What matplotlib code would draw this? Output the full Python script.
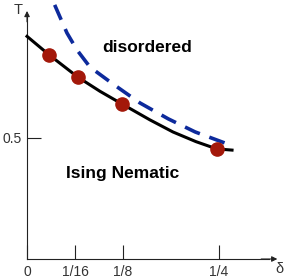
import matplotlib
matplotlib.use("Agg")
import matplotlib.pyplot as plt

plt.rcParams['font.family'] = ['Liberation Sans', 'DejaVu Sans']

# transition line (solid) and sampled points
delta_line = [0.0, 0.029, 0.066, 0.095, 0.124, 0.16, 0.19, 0.22, 0.247, 0.267]
T_line = [0.92, 0.843, 0.752, 0.693, 0.64, 0.575, 0.525, 0.485, 0.455, 0.45]

delta_pts = [0.029, 0.066, 0.124, 0.247]
T_pts = [0.843, 0.752, 0.64, 0.455]

# dashed upper curve
delta_dash = [0.036, 0.052, 0.065, 0.082, 0.112, 0.147, 0.184, 0.219, 0.258]
T_dash = [1.05, 0.934, 0.864, 0.793, 0.723, 0.645, 0.579, 0.525, 0.479]

xticks = [0, 1/16, 1/8, 1/4]
xticklabels = ['0', '1/16', '1/8', '1/4']
yticks = [0.5]
yticklabels = ['0.5']

fig = plt.figure(figsize=(2.91, 2.79), dpi=100)
ax = fig.add_axes([0, 0, 1, 1])
ax.set_xlim(-0.0352, 0.3438)
ax.set_ylim(-0.0826, 1.0702)

ax.plot(delta_dash, T_dash, color='#0d2a9c', lw=2.6, dashes=(4.5, 2.8),
        solid_capstyle='butt', dash_capstyle='butt', zorder=2)
ax.plot(delta_line, T_line, color='black', lw=2.2, zorder=3)
ax.plot(delta_pts, T_pts, 'o', color='#a3180a', ms=9.5, zorder=4)

# axes through origin
for s in ['top', 'right']:
    ax.spines[s].set_visible(False)
ax.spines['left'].set_position(('data', 0))
ax.spines['bottom'].set_position(('data', 0))
ax.spines['left'].set_bounds(0, 1.0)
ax.spines['bottom'].set_bounds(0, 0.315)
for s in ['left', 'bottom']:
    ax.spines[s].set_linewidth(0.8)
    ax.spines[s].set_color('#222222')

ax.annotate('', xy=(0, 1.025), xytext=(0, 0.98),
            arrowprops=dict(arrowstyle='-|>', color='#222222', lw=0.8,
                            mutation_scale=8, shrinkA=0, shrinkB=0))
ax.annotate('', xy=(0.326, 0), xytext=(0.305, 0),
            arrowprops=dict(arrowstyle='-|>', color='#222222', lw=0.8,
                            mutation_scale=8, shrinkA=0, shrinkB=0))

ax.set_xticks(xticks)
ax.set_xticklabels(xticklabels)
ax.set_yticks(yticks)
ax.set_yticklabels(yticklabels)
ax.tick_params(direction='in', length=10, width=0.8, color='#222222',
               labelsize=10, labelcolor='#333333', pad=4)

ax.text(-0.012, 1.03, 'T', fontsize=10.5, color='#333333', ha='center', va='center')
ax.text(0.329, -0.042, 'δ', fontsize=10.5, color='#333333', ha='center', va='center')

ax.text(0.156, 0.876, 'disordered', fontsize=12.5, fontweight='bold', ha='center', va='center')
ax.text(0.124, 0.355, 'Ising Nematic', fontsize=12.5, fontweight='bold', ha='center', va='center')

fig.savefig('out.png', dpi=100)
